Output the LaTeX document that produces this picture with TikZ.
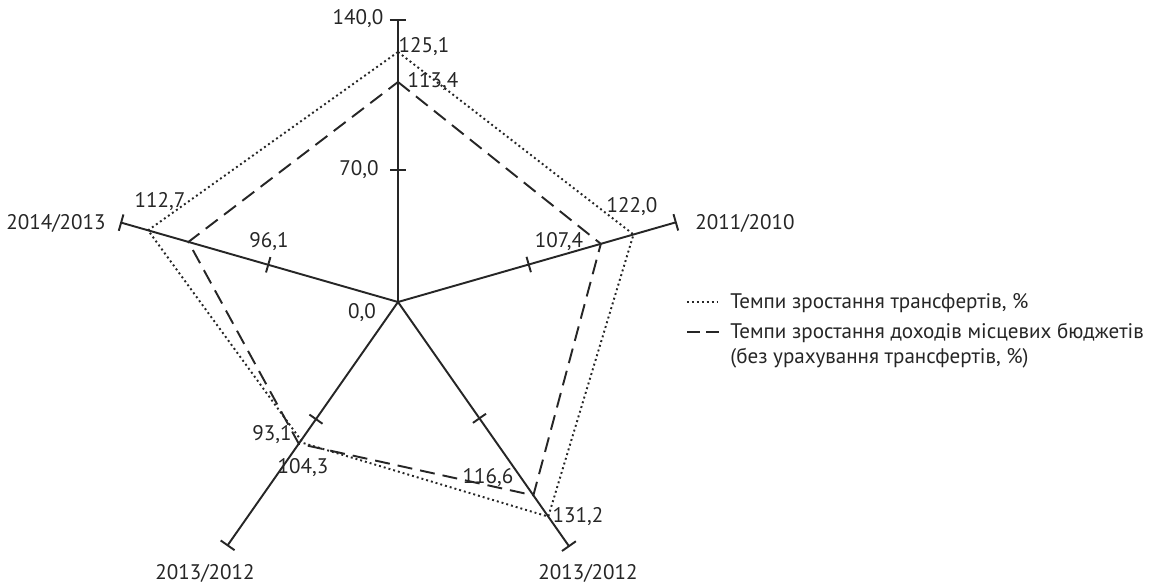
\documentclass[tikz,border=0pt]{standalone}
\usepackage{fontspec}
\setmainfont{PT Sans}
\usepackage{tikz}
\usetikzlibrary{arrows.meta,calc,positioning}
\tikzset{
    axis/.style={line width=1.1pt,black!85,-{Bar[width=0.34cm]}},
    midtick/.style={line width=1.1pt,black!85},
    transf/.style={line width=1.1pt,black!85,dash pattern=on 1.1pt off 1.7pt},
    dohid/.style={line width=1.1pt,black!85,dash pattern=on 0.3cm off 0.16cm},
    val/.style={inner sep=0pt,text=black!85,font=\fontsize{12}{14}\selectfont}
}

\begin{document}
\begin{tikzpicture}[x=0.02cm,y=0.02cm]
                            \useasboundingbox (-398,-283) rectangle (758,302);
                            \coordinate (O) at (0,0);
                            % axes
                            \coordinate (a1) at (90:283);
                            \coordinate (a2) at (16:290);
                            \coordinate (a3) at (-55:299);
                            \coordinate (a4) at (-125:298);
                            \coordinate (a5) at (164:289);
                            \draw[axis] (O) -- (a1);
                            \draw[axis] (O) -- (a2);
                            \draw[axis] (O) -- (a3);
                            \draw[axis] (O) -- (a4);
                            \draw[axis] (O) -- (a5);
                            % 70,0 marks
                            \coordinate (m1) at (90:132);
                            \coordinate (m2) at (16:136);
                            \coordinate (m3) at (-55:142);
                            \coordinate (m4) at (-125:143);
                            \coordinate (m5) at (164:135);
                            \draw[midtick] ($(m1)!0.16cm!90:(O)$) -- ($(m1)!0.16cm!-90:(O)$);
                            \draw[midtick] ($(m2)!0.16cm!90:(O)$) -- ($(m2)!0.16cm!-90:(O)$);
                            \draw[midtick] ($(m3)!0.16cm!90:(O)$) -- ($(m3)!0.16cm!-90:(O)$);
                            \draw[midtick] ($(m4)!0.16cm!90:(O)$) -- ($(m4)!0.16cm!-90:(O)$);
                            \draw[midtick] ($(m5)!0.16cm!90:(O)$) -- ($(m5)!0.16cm!-90:(O)$);
                            % transfers
                            \coordinate (t1) at (90:250);
                            \coordinate (t2) at (16:245);
                            \coordinate (t3) at (-55:262);
                            \coordinate (t4) at (-124:170);
                            \coordinate (t5) at (164:260);
                            \draw[transf] (t1) -- (t2) -- (t3) -- (t4) -- (t5) -- cycle;
                            % local budget revenues
                            \coordinate (d1) at (90:220);
                            \coordinate (d2) at (16:211);
                            \coordinate (d3) at (-55:236);
                            \coordinate (d4) at (-125:173);
                            \coordinate (d5) at (164:218);
                            \draw[dohid] (d1) -- (d2) -- (d3) -- (d4) -- (d5) -- cycle;
                            % scale labels
                            \node[val] (l140) at (-40,283) {140,0};
                            \node[val] (l70) at (-39,132) {70,0};
                            \node[val] (l0) at (-36,-11) {0,0};
                            % years
                            \node[val] (y1) at (347,79) {2011/2010};
                            \node[val] (y2) at (190,-271) {2013/2012};
                            \node[val] (y3) at (-193,-271) {2013/2012};
                            \node[val] (y4) at (-342,79) {2014/2013};
                            % values
                            \node[val] (v1) at (26,255) {125,1};
                            \node[val] (v2) at (35,220) {113,4};
                            \node[val] (v3) at (234,95) {122,0};
                            \node[val] (v4) at (161,60) {107,4};
                            \node[val] (v5) at (180,-215) {131,2};
                            \node[val] (v6) at (90,-176) {116,6};
                            \node[val] (v7) at (-126,-133) {93,1};
                            \node[val] (v8) at (-95,-166) {104,3};
                            \node[val] (v9) at (-238,100) {112,7};
                            \node[val] (v10) at (-129,60) {96,1};
                            % legend
                            \coordinate (lg1a) at (289,0);
                            \coordinate (lg1b) at (320,0);
                            \coordinate (lg2a) at (289,-30);
                            \coordinate (lg2b) at (322,-30);
                            \draw[transf] (lg1a) -- (lg1b);
                            \draw[dohid,dash pattern=on 0.26cm off 0.12cm] (lg2a) -- (lg2b);
                            \node[val,anchor=west] (leg1) at (332,-1) {Темпи зростання трансфертів, \%};
                            \node[val,anchor=north west,align=left] (leg2) at (332,-21) {Темпи зростання доходів місцевих бюджетів\\(без урахування трансфертів, \%)};
                        \end{tikzpicture}
\end{document}
